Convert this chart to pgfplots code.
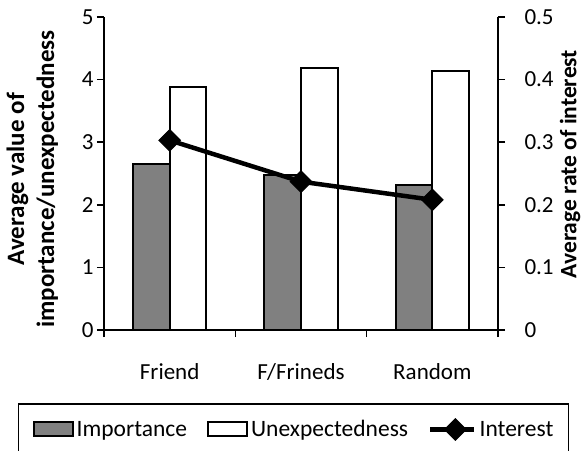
\documentclass[border=0pt]{standalone}
\usepackage{fontspec}
\setmainfont{Carlito}
\usepackage{pgfplots}
\pgfplotsset{compat=1.18}

\definecolor{impgray}{RGB}{128,128,128}

\pgfplotsset{
  box legend/.style={legend image code/.code={%
    \draw[##1] (0pt,-7pt) rectangle (39pt,7pt);}},
  long line legend/.style={legend image code/.code={%
    \draw[mark repeat=2, mark phase=2, ##1]
      plot coordinates {(0pt,0pt) (25pt,0pt) (44pt,0pt)};}},
}

\begin{document}
\begin{tikzpicture}[font=\fontsize{23}{27}\selectfont]
\path[use as bounding box] (-104pt,-120pt) rectangle (479pt,330pt);

% Bars: importance and unexpectedness on the left scale
\begin{axis}[
  scale only axis, width=394pt, height=313pt,
  xmin=-0.5, xmax=2.5, ymin=0, ymax=5,
  axis x line*=bottom, axis y line*=left,
  axis line style={line width=1.6pt},
  ytick={0,1,2,3,4,5},
  xtick={-0.5,0.5,1.5,2.5}, xticklabels={},
  extra x ticks={0,1,2},
  extra x tick labels={Friend,F/Frineds,Random},
  extra x tick style={major tick length=0pt, tick label style={yshift=-30pt}},
  tick align=outside, major tick length=7pt,
  tick style={line width=1.6pt, black},
  /pgf/number format/assume math mode=true,
  ticklabel style={font=\fontsize{23}{27}\selectfont},
  ybar=0pt, bar width=0.28,
  ylabel={Average value of\\importance/unexpectedness},
  ylabel style={font=\bfseries\fontsize{25}{30}\selectfont, align=center,
    at={(rel axis cs:-0.182,0.482)}, anchor=center},
]
\addplot[fill=impgray, draw=black, line width=2pt]
  coordinates {(0,2.65) (1,2.48) (2,2.32)};
\addplot[fill=white, draw=black, line width=2pt]
  coordinates {(0,3.88) (1,4.19) (2,4.14)};
\end{axis}

% Interest line on the right scale, with the shared legend
\begin{axis}[
  scale only axis, width=394pt, height=313pt,
  xmin=-0.5, xmax=2.5, ymin=0, ymax=0.5,
  axis x line=none, axis y line*=right,
  axis line style={line width=1.6pt},
  ytick={0,0.1,0.2,0.3,0.4,0.5},
  tick align=outside, major tick length=7pt,
  tick style={line width=1.6pt, black},
  /pgf/number format/assume math mode=true,
  ticklabel style={font=\fontsize{23}{27}\selectfont},
  yticklabel style={xshift=16pt},
  ylabel={Average rate of interest},
  ylabel style={font=\bfseries\fontsize{23.5}{29}\selectfont,
    at={(rel axis cs:1.183,0.53)}, anchor=center},
  legend columns=3,
  legend style={at={(0.481,-0.233)}, anchor=north, draw=black,
    line width=1.6pt, font=\fontsize{23.5}{28}\selectfont,
    inner xsep=14pt, inner ysep=15pt,
    nodes={inner sep=1pt},
    /tikz/every odd column/.append style={column sep=2pt},
    /tikz/every even column/.append style={column sep=19pt}},
]
\addlegendimage{fill=impgray, draw=black, line width=2pt, box legend}
\addlegendentry{Importance}
\addlegendimage{fill=white, draw=black, line width=2pt, box legend}
\addlegendentry{Unexpectedness}
\addplot[black, line width=4.5pt, mark=square*, mark size=7.6pt,
  mark options={rotate=45, line width=1pt, fill=black}, long line legend]
  coordinates {(0,0.303) (1,0.237) (2,0.208)};
\addlegendentry{Interest}
\end{axis}
\end{tikzpicture}
\end{document}
